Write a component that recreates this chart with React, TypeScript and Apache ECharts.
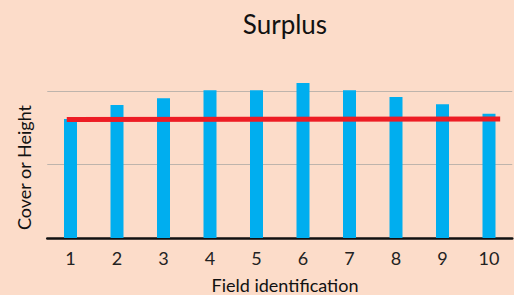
import React, { useEffect, useRef } from "react";
import * as echarts from "echarts";

const categories = ["1", "2", "3", "4", "5", "6", "7", "8", "9", "10"];
const barValues = [1.62, 1.81, 1.9, 2.01, 2.01, 2.11, 2.01, 1.92, 1.82, 1.69];
const trendPoints: [number, number][] = [
  [0.92, 1.612],
  [10.24, 1.62],
];
const titleText = "Surplus";
const yName = "Cover or Height";
const xName = "Field identification";

export default function App() {
  const ref = useRef<HTMLDivElement>(null);
  useEffect(() => {
    if (!ref.current) return;
    const chart = echarts.init(ref.current, undefined, { renderer: "svg" });
    const font = "Lato, 'Open Sans', sans-serif";
    chart.setOption({
      animation: false,
      backgroundColor: "#FCDCC9",
      textStyle: { fontFamily: font },
      grid: { left: 47.25, right: 1.75, top: 17.5, bottom: 57 },
      xAxis: [
        {
          type: "category",
          data: categories,
          axisTick: { show: false },
          axisLine: { lineStyle: { color: "#111", width: 2.5 } },
          axisLabel: { color: "#222", fontSize: 18, margin: 11, fontFamily: font },
        },
        {
          type: "value",
          min: 0.5,
          max: 10.5,
          show: false,
        },
      ],
      yAxis: {
        type: "value",
        min: 0,
        max: 3,
        interval: 1,
        axisLabel: { show: false },
        axisLine: { show: false },
        axisTick: { show: false },
        splitLine: {
          show: true,
          showMinLine: false,
          showMaxLine: false,
          lineStyle: { color: "#BEB4AC", width: 1 },
        },
      },
      graphic: [
        {
          type: "text",
          x: 285,
          y: 24,
          style: {
            text: titleText,
            fontSize: 26,
            fontFamily: font,
            fill: "#111",
            align: "center",
            verticalAlign: "middle",
          },
        },
        {
          type: "text",
          x: 24,
          y: 167.5,
          rotation: Math.PI / 2,
          style: {
            text: yName,
            fontSize: 18,
            fontFamily: font,
            fill: "#111",
            align: "center",
            verticalAlign: "middle",
          },
        },
        {
          type: "text",
          x: 285,
          y: 285,
          style: {
            text: xName,
            fontSize: 18,
            fontFamily: font,
            fill: "#111",
            align: "center",
            verticalAlign: "middle",
          },
        },
      ],
      series: [
        {
          type: "bar",
          data: barValues,
          barWidth: 13,
          itemStyle: { color: "#00AEEF" },
          xAxisIndex: 0,
        },
        {
          type: "line",
          data: trendPoints,
          xAxisIndex: 1,
          showSymbol: false,
          symbol: "none",
          lineStyle: { color: "#ED1C24", width: 5 },
        },
      ],
    });
    return () => chart.dispose();
  }, []);
  return (
    <div
      ref={ref}
      style={{ position: "fixed", left: 0, top: 0, width: 514, height: 295 }}
    />
  );
}
